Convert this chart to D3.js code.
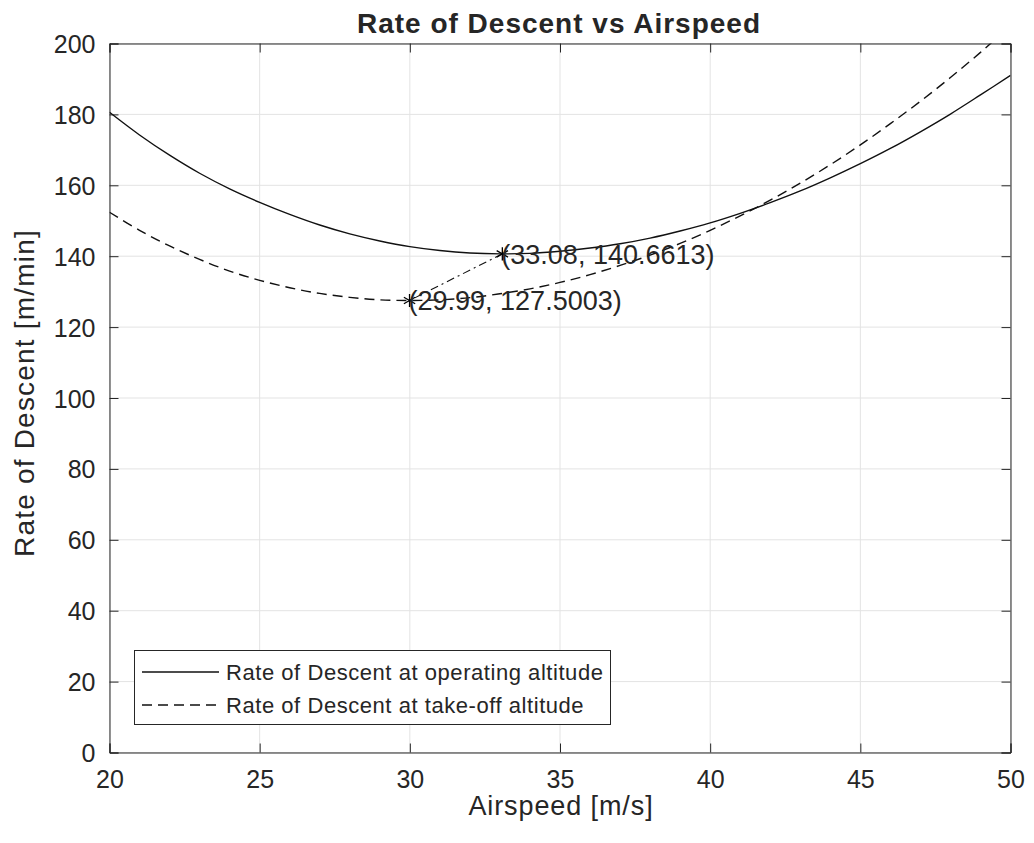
<!DOCTYPE html>
<html><head><meta charset="utf-8">
<script src="https://cdn.jsdelivr.net/npm/d3@7"></script>
<style>body{margin:0;background:#fff}svg{display:block}text{font-family:"Liberation Sans",Arial,sans-serif;fill:#262626}</style>
</head><body>
<script>
const airspeed = [20,21,22,23,24,25,26,27,28,29,30,31,32,33,34,35,36,37,38,39,40,41,42,43,44,45,46,47,48,49,50];
const rodOperating = [180.6,174.2,168.5,163.4,159.0,155.2,151.8,148.8,146.3,144.3,142.7,141.6,140.9,140.66,140.8,141.4,142.3,143.5,145.1,147.1,149.4,152.1,155.1,158.4,162.1,166.1,170.4,175.1,180.1,185.5,191.0];
const rodTakeoff = [152.4,147.3,142.9,139.1,135.8,133.2,131.1,129.5,128.4,127.7,127.5,127.7,128.3,129.4,130.8,132.6,134.8,137.4,140.3,143.6,147.3,151.4,155.8,160.6,165.8,171.4,177.4,183.7,190.4,197.5,205.0];
const minPoints = [{x:33.08,y:140.6613},{x:29.99,y:127.5003}];
const xTicks = [20,25,30,35,40,45,50];
const yTicks = [0,20,40,60,80,100,120,140,160,180,200];
const legendLabels = ["Rate of Descent at operating altitude","Rate of Descent at take-off altitude"];

const W=1034,H=843;
const m={l:109.5,r:1010.5,t:43.5,b:752.5};
const svg=d3.select("body").append("svg").attr("width",W).attr("height",H);
const x=d3.scaleLinear().domain([20,50]).range([m.l,m.r]);
const y=d3.scaleLinear().domain([0,200]).range([m.b,m.t]);

svg.append("defs").append("clipPath").attr("id","clip").append("rect")
  .attr("x",m.l).attr("y",m.t).attr("width",m.r-m.l).attr("height",m.b-m.t);

// grid
const g=svg.append("g");
g.selectAll(".vg").data(xTicks).join("line").attr("x1",d=>x(d)).attr("x2",d=>x(d)).attr("y1",m.t).attr("y2",m.b).attr("stroke","#e3e3e3").attr("stroke-width",1);
g.selectAll(".hg").data(yTicks).join("line").attr("y1",d=>y(d)).attr("y2",d=>y(d)).attr("x1",m.l).attr("x2",m.r).attr("stroke","#e3e3e3").attr("stroke-width",1);

// axes
const ax=svg.append("g").attr("transform",`translate(0,${m.b})`).call(d3.axisBottom(x).tickValues(xTicks).tickSize(-9).tickPadding(18).tickFormat(d3.format("d")));
const ay=svg.append("g").attr("transform",`translate(${m.l},0)`).call(d3.axisLeft(y).tickValues(yTicks).tickSize(-9).tickPadding(14).tickFormat(d3.format("d")));
svg.append("g").attr("transform",`translate(0,${m.t})`).call(d3.axisTop(x).tickValues(xTicks).tickSize(-9).tickFormat(""));
svg.append("g").attr("transform",`translate(${m.r},0)`).call(d3.axisRight(y).tickValues(yTicks).tickSize(-9).tickFormat(""));
svg.selectAll(".domain").attr("stroke","#262626");
svg.selectAll(".tick line").attr("stroke","#262626");
svg.selectAll(".tick text").style("font-size","25px").attr("fill","#262626").style("font-family","Liberation Sans, Arial, sans-serif");
ay.selectAll(".tick text").attr("dy","0.36em");

// lines
const line=d3.line().x((d,i)=>x(airspeed[i])).y(d=>y(d)).curve(d3.curveCatmullRom);
const pl=svg.append("g").attr("clip-path","url(#clip)");
pl.append("path").datum(rodOperating).attr("d",line).attr("fill","none").attr("stroke","#111").attr("stroke-width",1.4);
pl.append("path").datum(rodTakeoff).attr("d",line).attr("fill","none").attr("stroke","#111").attr("stroke-width",1.4).attr("stroke-dasharray","10,6");
pl.append("path").datum(minPoints).attr("d",d3.line().x(d=>x(d.x)).y(d=>y(d.y))).attr("fill","none").attr("stroke","#111").attr("stroke-width",1.1).attr("stroke-dasharray","8,4,2,4");

const sym=d3.symbol(d3.symbolAsterisk,120);
svg.selectAll(".mk").data(minPoints).join("path").attr("transform",d=>`translate(${x(d.x)},${y(d.y)})`).attr("d",sym).attr("fill","none").attr("stroke","#000").attr("stroke-width",1.3);
svg.selectAll(".lbl").data(minPoints).join("text").attr("x",d=>x(d.x)-1).attr("y",d=>y(d.y)).attr("dy","0.36em").style("font-size","27px").text(d=>`(${d.x}, ${d.y.toFixed(4)})`);

// titles
svg.append("text").attr("x",559).attr("y",33).attr("text-anchor","middle").style("font-size","28px").style("letter-spacing","1px").style("font-weight","bold").attr("fill","#000").text("Rate of Descent vs Airspeed");
svg.append("text").attr("x",561).attr("y",815).attr("text-anchor","middle").style("font-size","27px").style("letter-spacing","0.9px").text("Airspeed [m/s]");
svg.append("text").attr("transform",`translate(34,393) rotate(-90)`).attr("text-anchor","middle").style("font-size","28px").style("letter-spacing","1.2px").text("Rate of Descent [m/min]");

// legend
const lg=svg.append("g");
lg.append("rect").attr("x",134.5).attr("y",650.5).attr("width",476).attr("height",74).attr("fill","#fff").attr("stroke","#262626").attr("stroke-width",1);
legendLabels.forEach((t,i)=>{
  const yy=672+i*33;
  lg.append("line").attr("x1",142).attr("x2",219).attr("y1",yy).attr("y2",yy).attr("stroke","#111").attr("stroke-width",1.4).attr("stroke-dasharray",i?"10,6":null);
  lg.append("text").attr("x",226).attr("y",yy).attr("dy","0.36em").style("font-size","22px").style("letter-spacing","0.55px").text(t);
});
</script>
</body></html>
